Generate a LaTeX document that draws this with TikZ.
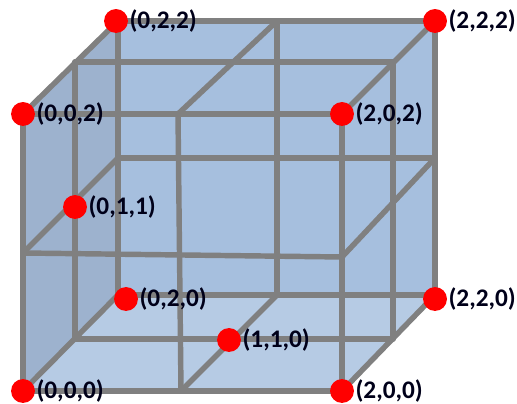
\documentclass[tikz,border=0pt]{standalone}
\usepackage{fontspec}
\setmainfont{Carlito}
\usepackage{xcolor}
\usetikzlibrary{positioning}
\definecolor{backblue}{HTML}{A6BFDE}
\definecolor{leftblue}{HTML}{9DB2CE}
\definecolor{floorblue}{HTML}{B6CBE4}
\definecolor{gridgray}{HTML}{808080}

\begin{document}
\begin{tikzpicture}[
	x=0.02cm, y=-0.02cm,
	gridline/.style={draw=gridgray, line width=3.1pt, line cap=round},
	dot/.style={circle, fill=red, inner sep=0pt, minimum size=13.6pt},
	coordlabel/.style={inner sep=0pt, font=\fontsize{14.4}{16}\selectfont\bfseries, text=black!90!blue}
	]
	\useasboundingbox (0,0) rectangle (517,404);
	% cube corners
	\coordinate (fbl) at (23,391);
	\coordinate (fbr) at (342,391);
	\coordinate (ftl) at (23,114);
	\coordinate (ftr) at (342,114);
	\coordinate (btl) at (118,21);
	\coordinate (btr) at (435,21);
	\coordinate (bbl) at (118,295);
	\coordinate (bbr) at (435,295);
	% grid points
	\coordinate (mtl) at (75,62);
	\coordinate (mtr) at (393,62);
	\coordinate (mbl) at (75,339);
	\coordinate (mbr) at (393,339);
	\coordinate (ftm) at (178,114);
	\coordinate (fbm) at (181,391);
	\coordinate (btm) at (277,21);
	\coordinate (bbm) at (277,295);
	\coordinate (fml) at (23,253);
	\coordinate (fmr) at (342,257);
	\coordinate (bml) at (118,158);
	\coordinate (bmr) at (435,158);
	% faces
	\fill[backblue] (btl) -- (btr) -- (bbr) -- (bbl) -- cycle;
	\fill[floorblue] (fbl) -- (fbr) -- (bbr) -- (bbl) -- cycle;
	\fill[leftblue] (fbl) -- (ftl) -- (btl) -- (bbl) -- cycle;
	% grid
	\draw[gridline] (btl) -- (btr);
	\draw[gridline] (btr) -- (bbr);
	\draw[gridline] (bbr) -- (bbl);
	\draw[gridline] (bbl) -- (btl);
	\draw[gridline] (ftl) -- (ftr);
	\draw[gridline] (ftr) -- (fbr);
	\draw[gridline] (fbr) -- (fbl);
	\draw[gridline] (fbl) -- (ftl);
	\draw[gridline] (ftl) -- (btl);
	\draw[gridline] (ftr) -- (btr);
	\draw[gridline] (fbl) -- (bbl);
	\draw[gridline] (fbr) -- (bbr);
	\draw[gridline] (mtl) -- (mtr);
	\draw[gridline] (mtr) -- (mbr);
	\draw[gridline] (mbr) -- (mbl);
	\draw[gridline] (mbl) -- (mtl);
	\draw[gridline] (ftm) -- (fbm);
	\draw[gridline] (btm) -- (bbm);
	\draw[gridline] (ftm) -- (btm);
	\draw[gridline] (fbm) -- (bbm);
	\draw[gridline] (fml) -- (fmr);
	\draw[gridline] (bml) -- (bmr);
	\draw[gridline] (fml) -- (bml);
	\draw[gridline] (fmr) -- (bmr);
	% points and their labels
	\node[dot] (p000) at (23,391) {};
	\node[dot] (p200) at (342,391) {};
	\node[dot] (p002) at (23,114) {};
	\node[dot] (p202) at (342,114) {};
	\node[dot] (p022) at (116,21) {};
	\node[dot] (p222) at (435,21) {};
	\node[dot] (p020) at (126,299) {};
	\node[dot] (p220) at (435,299) {};
	\node[dot] (p011) at (75,207) {};
	\node[dot] (p110) at (229,340) {};
	\node[coordlabel, right=0.5pt of p000] (l000) {(0,0,0)};
	\node[coordlabel, right=0.5pt of p200] (l200) {(2,0,0)};
	\node[coordlabel, right=0.5pt of p002] (l002) {(0,0,2)};
	\node[coordlabel, right=0.5pt of p202] (l202) {(2,0,2)};
	\node[coordlabel, right=0.5pt of p022] (l022) {(0,2,2)};
	\node[coordlabel, right=0.5pt of p222] (l222) {(2,2,2)};
	\node[coordlabel, right=0.5pt of p020] (l020) {(0,2,0)};
	\node[coordlabel, right=0.5pt of p220] (l220) {(2,2,0)};
	\node[coordlabel, right=0.5pt of p011] (l011) {(0,1,1)};
	\node[coordlabel, right=0.5pt of p110] (l110) {(1,1,0)};
\end{tikzpicture}
\end{document}
